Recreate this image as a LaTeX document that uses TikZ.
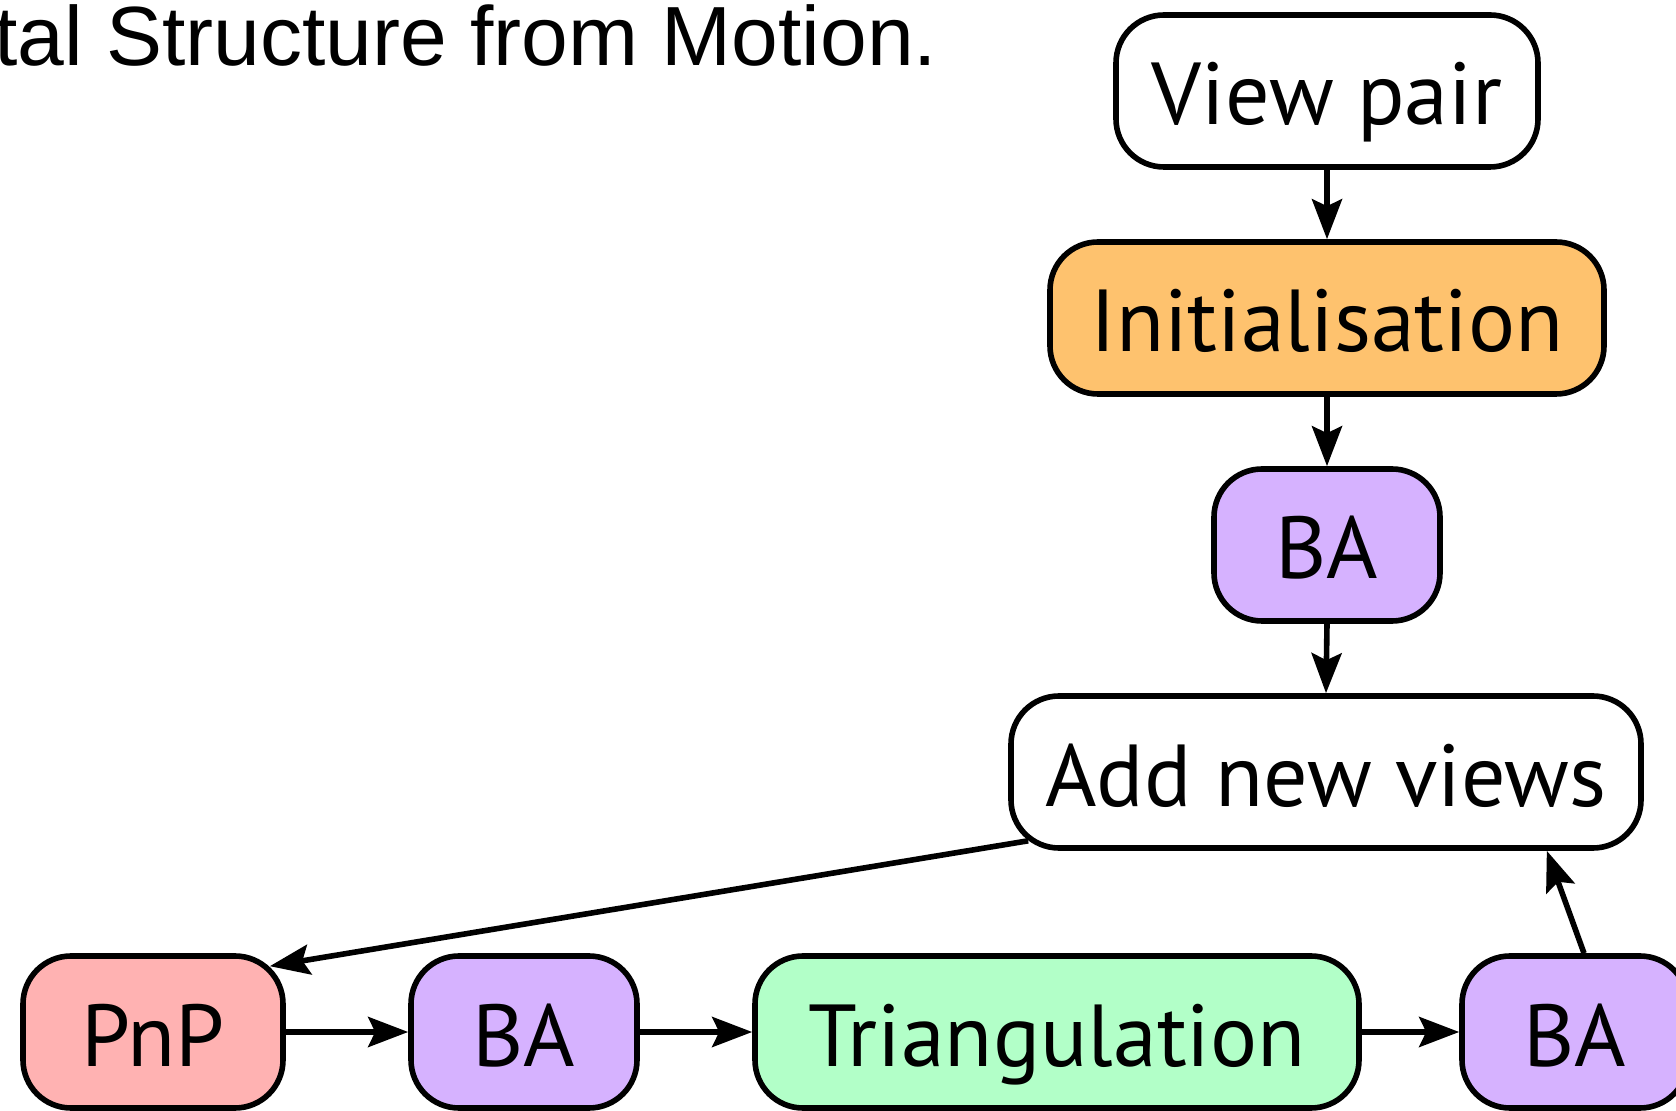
\documentclass[tikz,border=0pt]{standalone}
\usepackage{fontspec}
\setmainfont{PT Sans}
\newfontfamily\titlefont{Liberation Sans}
\usetikzlibrary{arrows.meta}

\definecolor{initfill}{RGB}{254,194,110}
\definecolor{pnpfill}{RGB}{255,178,178}
\definecolor{bafill}{RGB}{214,178,255}
\definecolor{trifill}{RGB}{178,255,200}

\begin{document}
\begin{tikzpicture}[x=0.5pt,y=-0.5pt,
  stagebox/.style={draw=black, line width=2.8pt, rounded corners=24pt,
    minimum height=76pt, inner sep=0pt, anchor=center,
    text height=34pt, text depth=0pt,
    font=\fontsize{44}{50}\selectfont},
  flow/.style={line width=2.8pt,
    -{Stealth[length=20pt,width=15pt,inset=3.5pt]}}]
\useasboundingbox (0,0) rectangle (1676,1111);

% caption fragment
\node[anchor=base west, inner sep=0pt,
  font=\titlefont\fontsize{42}{50}\selectfont] (title) at (-6,66)
  {tal Structure from Motion.};

% main column
\node[stagebox, fill=white, minimum width=211pt] (vp) at (1327,91) {View pair};
\node[stagebox, fill=initfill, minimum width=277pt] (init) at (1327,318) {Initialisation};
\node[stagebox, fill=bafill, minimum width=113pt] (ba0) at (1327,545) {BA};
\node[stagebox, fill=white, minimum width=315pt] (add) at (1326,772) {Add new views};

% bottom row
\node[stagebox, fill=pnpfill, minimum width=130pt] (pnp) at (153,1032) {PnP};
\node[stagebox, fill=bafill, minimum width=113pt] (ba1) at (524,1032) {BA};
\node[stagebox, fill=trifill, minimum width=302pt] (tri) at (1057,1032) {Triangulation};
\node[stagebox, fill=bafill, minimum width=113pt] (ba2) at (1575,1032) {BA};

% connectors
\draw[flow] (vp.south) -- (init.north);
\draw[flow] (init.south) -- (ba0.north);
\draw[flow] (ba0.south) -- (add.north);
\draw[flow] ([shift={(20,-10)}]add.south west) -- ([shift={(-16,13)}]pnp.north east);
\draw[flow] (pnp.east) -- (ba1.west);
\draw[flow] (ba1.east) -- (tri.west);
\draw[flow] (tri.east) -- (ba2.west);
\draw[flow] ([shift={(9,0)}]ba2.north) -- ([shift={(-97,0)}]add.south east);
\end{tikzpicture}
\end{document}
